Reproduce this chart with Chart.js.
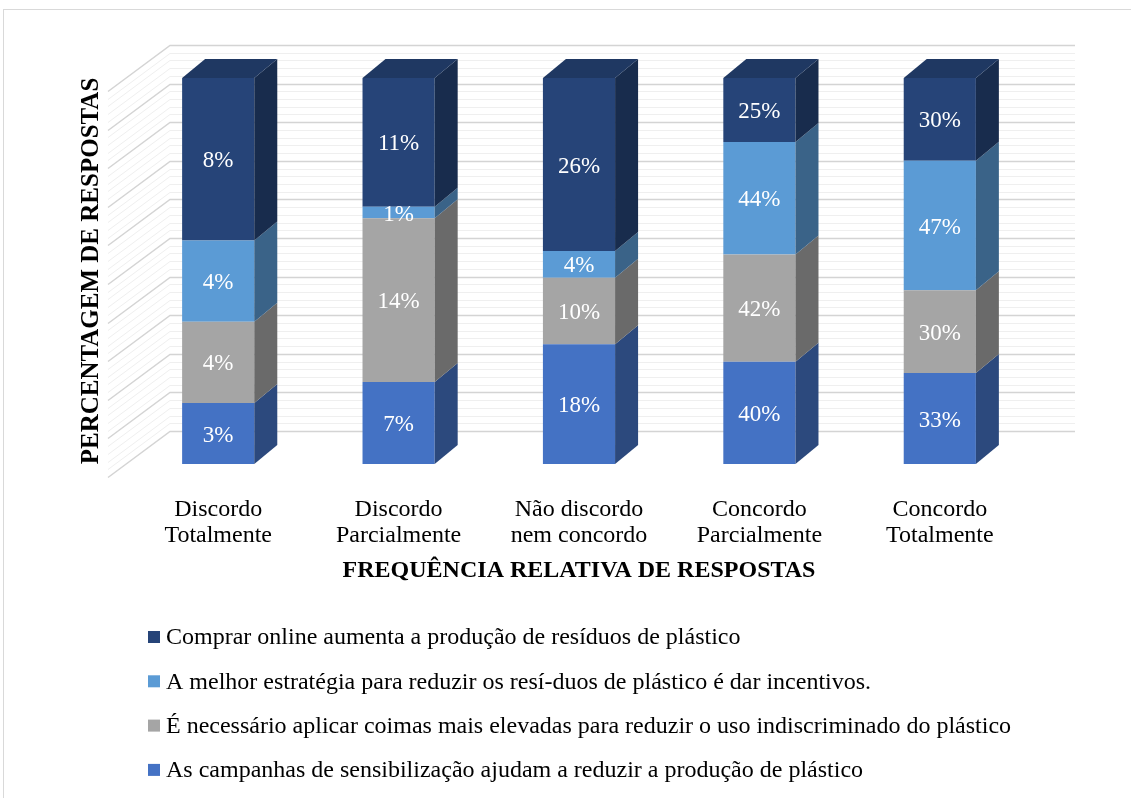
<!DOCTYPE html>
<html lang="pt">
<head>
<meta charset="UTF-8">
<title>Frequência relativa de respostas</title>
<script src="https://cdn.jsdelivr.net/npm/chart.js"></script>
<style>
  html, body { margin: 0; padding: 0; background: #fff; }
  #grafico { display: block; }
</style>
</head>
<body>
<canvas id="grafico" width="1131" height="798"></canvas>
<script>
// categorias (eixo x)
const categorias = [
  ['Discordo', 'Totalmente'],
  ['Discordo', 'Parcialmente'],
  ['Não discordo', 'nem concordo'],
  ['Concordo', 'Parcialmente'],
  ['Concordo', 'Totalmente']
];

// séries, de baixo para cima
const serieCampanhas = [3, 7, 18, 40, 33];
const serieCoimas = [4, 14, 10, 42, 30];
const serieEstrategia = [4, 1, 4, 44, 47];
const serieOnline = [8, 11, 26, 25, 30];

const nomes = [
  'As campanhas de sensibilização ajudam a reduzir a produção de plástico',
  'É necessário aplicar coimas mais elevadas para reduzir o uso indiscriminado do plástico',
  'A melhor estratégia para reduzir os resí-duos de plástico é dar incentivos.',
  'Comprar online aumenta a produção de resíduos de plástico'
];
const cores = ['#4472c4', '#a5a5a5', '#5b9bd5', '#264478'];

const series = [serieCampanhas, serieCoimas, serieEstrategia, serieOnline];
// total de cada coluna (gráfico 100% empilhado)
const totais = categorias.map((_, i) => series.reduce((s, arr) => s + arr[i], 0));

function escurecer(hex, f) {
  const n = parseInt(hex.slice(1), 16);
  const r = Math.round(((n >> 16) & 255) * f);
  const g = Math.round(((n >> 8) & 255) * f);
  const b = Math.round((n & 255) * f);
  return `rgb(${r},${g},${b})`;
}

const FONTE = "'Liberation Serif', 'Times New Roman', serif";
const PROF_X = 23, PROF_Y = -19;   // profundidade das barras
const PAREDE_X = 42, PAREDE_Y = -33; // recuo da parede do fundo

const fundo = {
  id: 'fundo',
  beforeDraw(chart) {
    const ctx = chart.ctx;
    ctx.save();
    ctx.fillStyle = '#fff';
    ctx.fillRect(0, 0, chart.width, chart.height);
    ctx.strokeStyle = '#d9d9d9';
    ctx.lineWidth = 1;
    ctx.strokeRect(3.5, 9.5, chart.width + 10, chart.height + 10);
    ctx.restore();
  },
  beforeDatasetsDraw(chart) {
    const ctx = chart.ctx;
    const y = chart.scales.y;
    const area = chart.chartArea;
    const x0 = area.left + PAREDE_X;
    const x1 = area.right + PAREDE_X + 3;
    ctx.save();
    for (let v = 0; v <= 100; v += 2) {
      const major = v % 10 === 0;
      const py = Math.round(y.getPixelForValue(v) + PAREDE_Y) + 0.5;
      ctx.strokeStyle = major ? '#d4d4d4' : '#efefef';
      ctx.lineWidth = major ? 1.5 : 1;
      ctx.beginPath();
      ctx.moveTo(x1, py);
      ctx.lineTo(x0, py);
      ctx.lineTo(x0 - 62, py + 46);
      ctx.stroke();
    }
    ctx.restore();
  },
  afterDatasetsDraw(chart) {
    const ctx = chart.ctx;
    const n = chart.data.datasets.length;
    ctx.save();
    // faces laterais e topo
    for (let d = 0; d < n; d++) {
      const meta = chart.getDatasetMeta(d);
      const cor = chart.data.datasets[d].backgroundColor;
      meta.data.forEach((bar) => {
        const x2 = bar.x + bar.width / 2;
        const x1 = bar.x - bar.width / 2;
        const top = bar.y, base = bar.base;
        ctx.fillStyle = escurecer(cor, 0.64);
        ctx.beginPath();
        ctx.moveTo(x2, base);
        ctx.lineTo(x2, top);
        ctx.lineTo(x2 + PROF_X, top + PROF_Y);
        ctx.lineTo(x2 + PROF_X, base + PROF_Y);
        ctx.closePath();
        ctx.fill();
        if (d === n - 1) {
          ctx.fillStyle = escurecer(cor, 0.82);
          ctx.beginPath();
          ctx.moveTo(x1, top);
          ctx.lineTo(x1 + PROF_X, top + PROF_Y);
          ctx.lineTo(x2 + PROF_X, top + PROF_Y);
          ctx.lineTo(x2, top);
          ctx.closePath();
          ctx.fill();
        }
      });
    }
    // rótulos de dados
    ctx.fillStyle = '#fff';
    ctx.font = `23px ${FONTE}`;
    ctx.textAlign = 'center';
    ctx.textBaseline = 'middle';
    for (let d = 0; d < n; d++) {
      const meta = chart.getDatasetMeta(d);
      meta.data.forEach((bar, i) => {
        const valor = chart.data.datasets[d].valores[i];
        ctx.fillText(valor + '%', bar.x, (bar.y + bar.base) / 2 + 2);
      });
    }
    ctx.restore();
  },
  afterDraw(chart) {
    // legenda, uma entrada por linha, ordem inversa
    const ctx = chart.ctx;
    const baseY = chart.scales.x.bottom + 39;
    ctx.save();
    ctx.font = `24px ${FONTE}`;
    ctx.textAlign = 'left';
    ctx.textBaseline = 'middle';
    const ds = chart.data.datasets.slice().reverse();
    ds.forEach((d, k) => {
      const cy = baseY + k * 44.3;
      ctx.fillStyle = d.backgroundColor;
      ctx.fillRect(148, cy - 6, 12, 12);
      ctx.fillStyle = '#000';
      ctx.fillText(d.label, 166, cy + 1);
    });
    ctx.restore();
  }
};

const datasets = series.map((arr, k) => ({
  label: nomes[k],
  valores: arr,
  data: arr.map((v, i) => v / totais[i] * 100),
  backgroundColor: cores[k],
  borderWidth: 0,
  categoryPercentage: 0.8,
  barPercentage: 0.5
}));

new Chart(document.getElementById('grafico'), {
  type: 'bar',
  data: { labels: categorias, datasets: datasets },
  options: {
    responsive: false,
    devicePixelRatio: 1,
    animation: false,
    layout: { padding: { left: 73, right: 101, top: 78, bottom: 200 } },
    plugins: {
      legend: { display: false },
      tooltip: { enabled: false }
    },
    scales: {
      x: {
        stacked: true,
        grid: { display: false },
        border: { display: false },
        ticks: {
          color: '#000',
          font: { family: FONTE, size: 24, lineHeight: '26px' },
          padding: 25,
          maxRotation: 0,
          autoSkip: false
        },
        title: {
          display: true,
          text: 'FREQUÊNCIA RELATIVA DE RESPOSTAS',
          color: '#000',
          font: { family: FONTE, size: 24, weight: 'bold' },
          padding: { top: 0, bottom: 13 }
        },
        afterFit: (s) => { s.height = 134; }
      },
      y: {
        stacked: true,
        min: 0,
        max: 100,
        grid: { display: false },
        border: { display: false },
        ticks: { display: false },
        title: {
          display: true,
          text: 'PERCENTAGEM DE RESPOSTAS',
          color: '#000',
          font: { family: FONTE, size: 25, weight: 'bold' },
          padding: 4
        },
        afterFit: (s) => { s.width = 55; }
      }
    }
  },
  plugins: [fundo]
});
</script>
</body>
</html>
